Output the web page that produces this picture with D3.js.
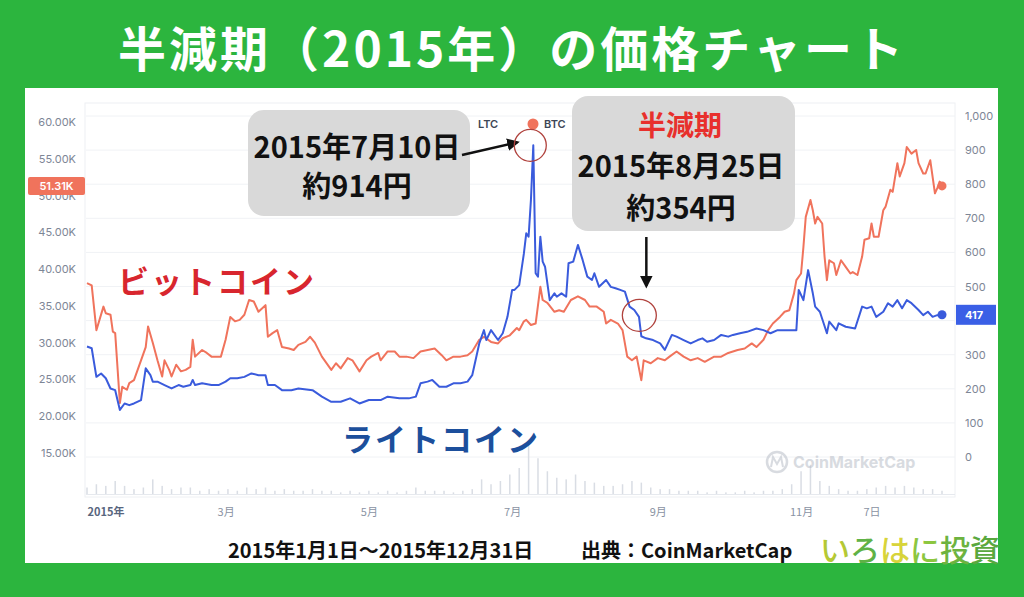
<!DOCTYPE html>
<html><head><meta charset="utf-8">
<script src="https://cdn.jsdelivr.net/npm/d3@7"></script>
<style>html,body{margin:0;padding:0;background:#2cb53e;}svg{display:block;}</style>
</head><body>
<svg id="c" width="1024" height="597"></svg>
<script>
// ---------- DATA ----------
const btcPrices = [
["2015-01-01",38100],["2015-01-03",37800],["2015-01-05",31700],["2015-01-08",34900],["2015-01-09",34000],["2015-01-11",33800],["2015-01-12",31500],["2015-01-13",31300],["2015-01-15",21800],["2015-01-16",24000],["2015-01-18",23600],["2015-01-19",24500],["2015-01-21",24900],["2015-01-24",27600],["2015-01-26",29400],["2015-01-27",32200],["2015-01-29",30000],["2015-01-31",27600],
["2015-02-02",25400],["2015-02-03",27600],["2015-02-05",26300],["2015-02-06",25400],["2015-02-08",27000],["2015-02-10",26100],["2015-02-12",26300],["2015-02-14",26700],["2015-02-15",30400],["2015-02-16",28100],["2015-02-19",29000],["2015-02-21",28600],["2015-02-23",28100],["2015-02-25",28100],["2015-02-27",28100],
["2015-03-01",30400],["2015-03-03",33500],["2015-03-05",32900],["2015-03-07",33100],["2015-03-09",33800],["2015-03-11",35800],["2015-03-13",35600],["2015-03-15",34200],["2015-03-18",35100],["2015-03-19",30800],["2015-03-21",31300],["2015-03-23",31700],["2015-03-25",29400],["2015-03-28",29200],["2015-03-30",29000],
["2015-04-01",29700],["2015-04-04",30100],["2015-04-06",30800],["2015-04-08",30000],["2015-04-11",28100],["2015-04-15",26300],["2015-04-17",27200],["2015-04-19",26500],["2015-04-22",27900],["2015-04-24",27600],["2015-04-27",26100],["2015-04-30",27600],
["2015-05-02",28100],["2015-05-05",28600],["2015-05-06",27600],["2015-05-09",28800],["2015-05-12",28800],["2015-05-14",28100],["2015-05-17",28100],["2015-05-20",27900],["2015-05-23",28800],["2015-05-26",29000],["2015-05-29",29200],
["2015-06-01",28300],["2015-06-03",27600],["2015-06-06",28100],["2015-06-09",28100],["2015-06-12",28300],["2015-06-14",28800],["2015-06-17",30400],["2015-06-19",30800],["2015-06-22",30100],["2015-06-25",29900],["2015-06-27",30600],["2015-06-30",31000],
["2015-07-03",32000],["2015-07-04",31700],["2015-07-06",32900],["2015-07-07",33100],["2015-07-09",32400],["2015-07-11",32600],["2015-07-13",37600],["2015-07-14",35800],["2015-07-16",35400],["2015-07-19",34200],["2015-07-21",34400],["2015-07-23",34200],["2015-07-26",35800],["2015-07-29",36300],
["2015-08-01",35800],["2015-08-03",34900],["2015-08-06",34900],["2015-08-09",34200],["2015-08-10",32600],["2015-08-12",33100],["2015-08-15",32600],["2015-08-17",31700],["2015-08-19",28100],["2015-08-21",27600],["2015-08-23",28100],["2015-08-25",24900],["2015-08-26",27600],["2015-08-29",27200],
["2015-09-01",27900],["2015-09-04",27600],["2015-09-06",28100],["2015-09-09",28800],["2015-09-12",28100],["2015-09-15",27600],["2015-09-18",27900],["2015-09-21",27400],["2015-09-25",28100],["2015-09-28",28100],
["2015-10-01",28600],["2015-10-05",29000],["2015-10-08",29200],["2015-10-11",29900],["2015-10-13",29400],["2015-10-16",30400],["2015-10-18",31700],["2015-10-20",32600],["2015-10-23",33500],["2015-10-25",34200],["2015-10-27",34400],["2015-10-29",36700],["2015-10-30",38500],
["2015-11-01",39400],["2015-11-02",43000],["2015-11-03",47100],["2015-11-05",49400],["2015-11-06",48000],["2015-11-07",46200],["2015-11-08",47100],["2015-11-10",46200],["2015-11-11",41700],["2015-11-12",38500],["2015-11-13",41200],["2015-11-15",40800],["2015-11-16",39200],["2015-11-18",41200],["2015-11-20",40300],["2015-11-22",39400],["2015-11-23",39600],["2015-11-25",39200],["2015-11-27",41700],["2015-11-28",44000],["2015-11-30",44200],
["2015-12-01",46200],["2015-12-02",44400],["2015-12-04",44400],["2015-12-06",48000],["2015-12-07",48500],["2015-12-09",50800],["2015-12-10",50500],["2015-12-12",54400],["2015-12-13",52600],["2015-12-15",54400],["2015-12-16",56600],["2015-12-18",55700],["2015-12-20",56200],["2015-12-21",54400],["2015-12-23",53000],["2015-12-24",53000],["2015-12-26",54800],["2015-12-28",50300],["2015-12-29",51000],["2015-12-30",51900],["2015-12-31",51310]
];
const ltcPrices = [
["2015-01-01",324],["2015-01-03",319],["2015-01-05",235],["2015-01-07",245],["2015-01-09",231],["2015-01-11",201],["2015-01-13",196],["2015-01-15",138],["2015-01-17",157],["2015-01-19",152],["2015-01-21",157],["2015-01-24",167],["2015-01-26",260],["2015-01-28",240],["2015-01-29",221],["2015-01-31",221],
["2015-02-03",211],["2015-02-06",201],["2015-02-09",211],["2015-02-11",206],["2015-02-14",211],["2015-02-15",226],["2015-02-16",211],["2015-02-19",216],["2015-02-23",211],["2015-02-26",211],
["2015-03-01",221],["2015-03-03",231],["2015-03-06",231],["2015-03-09",235],["2015-03-12",245],["2015-03-15",240],["2015-03-18",240],["2015-03-19",211],["2015-03-22",211],["2015-03-25",196],["2015-03-29",196],
["2015-04-01",201],["2015-04-07",196],["2015-04-11",177],["2015-04-15",162],["2015-04-19",162],["2015-04-23",172],["2015-04-27",157],
["2015-05-01",167],["2015-05-06",167],["2015-05-09",177],["2015-05-14",172],["2015-05-18",172],["2015-05-21",177],["2015-05-23",216],["2015-05-26",221],["2015-05-28",226],["2015-05-31",206],
["2015-06-03",206],["2015-06-06",216],["2015-06-09",216],["2015-06-12",221],["2015-06-14",240],["2015-06-17",333],["2015-06-19",372],["2015-06-20",343],["2015-06-22",372],["2015-06-25",343],["2015-06-27",363],["2015-06-29",411],
["2015-07-01",490],["2015-07-02",490],["2015-07-04",504],["2015-07-06",597],["2015-07-07",656],["2015-07-08",646],["2015-07-09",754],["2015-07-10",914],["2015-07-11",539],["2015-07-12",529],["2015-07-13",646],["2015-07-14",573],["2015-07-15",558],["2015-07-17",460],["2015-07-19",480],["2015-07-20",470],["2015-07-22",480],["2015-07-24",470],["2015-07-25",568],["2015-07-27",573],["2015-07-29",622],["2015-07-31",578],
["2015-08-02",529],["2015-08-04",519],["2015-08-05",539],["2015-08-07",499],["2015-08-10",519],["2015-08-12",499],["2015-08-14",495],["2015-08-16",490],["2015-08-18",485],["2015-08-20",441],["2015-08-22",431],["2015-08-24",411],["2015-08-25",354],["2015-08-27",348],["2015-08-30",343],
["2015-09-02",333],["2015-09-04",314],["2015-09-07",358],["2015-09-09",353],["2015-09-12",343],["2015-09-15",333],["2015-09-18",343],["2015-09-20",348],["2015-09-22",338],["2015-09-25",343],["2015-09-28",358],
["2015-10-01",353],["2015-10-03",358],["2015-10-06",363],["2015-10-09",367],["2015-10-13",377],["2015-10-16",372],["2015-10-19",363],["2015-10-22",372],["2015-10-25",372],["2015-10-28",372],["2015-10-30",372],["2015-10-31",490],
["2015-11-02",460],["2015-11-04",548],["2015-11-06",480],["2015-11-07",441],["2015-11-09",426],["2015-11-12",363],["2015-11-13",397],["2015-11-16",372],["2015-11-17",392],["2015-11-20",382],["2015-11-24",377],["2015-11-27",441],["2015-11-29",436],
["2015-12-01",441],["2015-12-03",411],["2015-12-06",426],["2015-12-08",451],["2015-12-10",441],["2015-12-12",460],["2015-12-14",436],["2015-12-16",460],["2015-12-18",451],["2015-12-21",431],["2015-12-23",416],["2015-12-25",426],["2015-12-27",411],["2015-12-29",416],["2015-12-31",417]
];
// volume (relative), one value every 4 days from 2015-01-01
const volumeStart = "2015-01-01";
const volumeStepDays = 4;
const volumeValues = [4,6,5,8,5,3,4,9,5,3,4,4,2,3,2,3,2,4,3,4,2,3,2,2,3,2,2,1,2,1,2,1,2,1,2,4,2,2,2,1,2,3,9,6,8,12,16,30,22,14,10,9,12,8,7,5,5,6,8,7,4,3,3,2,2,2,1,2,1,1,2,1,2,2,3,6,14,18,8,5,3,2,2,3,4,5,4,5,4,3,3,2];
const btcTicks = [15000,20000,25000,30000,35000,40000,45000,50000,55000,60000];
const ltcGrid = [0,100,200,300,400,500,600,700,800,900,1000];
const ltcTickLabels = [0,100,200,300,500,600,700,800,900,1000]; // 400 is hidden under the last-value badge
const xTickDates = ["2015-01-01","2015-03-01","2015-05-01","2015-07-01","2015-09-01","2015-11-01","2015-12-01"];
const xTickLabels = ["2015年","3月","5月","7月","9月","11月","7日"];
const titleText = "半減期（2015年）の価格チャート";
const peakNote = {date:"2015-07-10", value:914, lines:["2015年7月10日","約914円"]};
const halvingNote = {date:"2015-08-25", value:354, head:"半減期", lines:["2015年8月25日","約354円"]};
const lastBtcLabel = "51.31K";
const lastLtcLabel = "417";

// ---------- SETUP ----------
const parse = d3.timeParse("%Y-%m-%d");
const svg = d3.select("#c");
const C_BTC = "#f0735c", C_LTC = "#3a5bdc";
const axisFont = "Inter, 'Noto Sans', sans-serif";
const jpFont = "'Noto Sans CJK JP', 'Noto Sans', sans-serif";

svg.append("rect").attr("width",1024).attr("height",597).attr("fill","#2cb53e");
svg.append("rect").attr("x",25).attr("y",88).attr("width",973).attr("height",475).attr("fill","#ffffff");

svg.append("text").attr("x",512).attr("y",46).attr("text-anchor","middle").attr("dominant-baseline","central")
  .attr("font-family",jpFont).attr("font-weight",700).attr("font-size",48).attr("letter-spacing",3).attr("fill","#fff").text(titleText);

const x = d3.scaleTime().domain([parse("2015-01-01"), parse("2015-12-31")]).range([87, 942]);
const yB = d3.scaleLinear().domain([15000,60000]).range([453,122]);
const yL = d3.scaleLinear().domain([0,1000]).range([457,116]);
const yV = d3.scaleLinear().domain([0,32]).range([494,442]);

// plot frame
svg.append("rect").attr("x",85).attr("y",103).attr("width",870).attr("height",394)
  .attr("fill","none").attr("stroke","#eef0f3").attr("stroke-width",1);
// gridlines
svg.append("g").selectAll("line").data(ltcGrid).join("line")
  .attr("x1",86).attr("x2",955).attr("y1",d=>yL(d)).attr("y2",d=>yL(d))
  .attr("stroke","#f0f2f5").attr("stroke-width",1);

// volume
const vol = volumeValues.map((v,i)=>({d:d3.timeDay.offset(parse(volumeStart), i*volumeStepDays), v}));
svg.append("g").selectAll("rect").data(vol).join("rect")
  .attr("x",d=>x(d.d)-0.75).attr("width",1.5).attr("y",d=>yV(d.v)).attr("height",d=>yV(0)-yV(d.v))
  .attr("fill","#d9dde4");
svg.append("line").attr("x1",86).attr("x2",955).attr("y1",494.5).attr("y2",494.5).attr("stroke","#e6e9ee");

// watermark
const wm = svg.append("g").attr("opacity",0.55);
wm.append("circle").attr("cx",777).attr("cy",462).attr("r",10).attr("fill","none").attr("stroke","#b9bec8").attr("stroke-width",2.5);
wm.append("path").attr("d","M771,467 L773,457 L777,464 L781,457 L783,467").attr("fill","none").attr("stroke","#b9bec8").attr("stroke-width",2);
wm.append("text").attr("x",793).attr("y",468).attr("font-family",axisFont).attr("font-weight",700).attr("font-size",16).attr("fill","#b9bec8").text("CoinMarketCap");

// axes
const gl = svg.append("g").attr("transform","translate(76,0)")
  .call(d3.axisLeft(yB).tickValues(btcTicks).tickSize(0).tickPadding(0).tickFormat(d=>(d/1000).toFixed(2)+"K"));
gl.select(".domain").remove();
gl.selectAll("text").attr("font-family",axisFont).attr("font-size",11).attr("fill","#7d8696");
const gr = svg.append("g").attr("transform","translate(965,0)")
  .call(d3.axisRight(yL).tickValues(ltcTickLabels).tickSize(0).tickPadding(0).tickFormat(d3.format(",")));
gr.select(".domain").remove();
gr.selectAll("text").attr("font-family",axisFont).attr("font-size",11).attr("fill","#7d8696");
const gx = svg.append("g").attr("transform","translate(0,500)")
  .call(d3.axisBottom(x).tickValues(xTickDates.map(parse)).tickSize(0).tickPadding(8).tickFormat((d,i)=>xTickLabels[i]));
gx.select(".domain").remove();
gx.selectAll("text").attr("font-family",jpFont).attr("font-size",11).attr("fill","#8a93a3")
  .filter((d,i)=>i===0).attr("text-anchor","start").attr("font-weight",700).attr("fill","#58667e");

// lines
const lineB = d3.line().x(d=>x(parse(d[0]))).y(d=>yB(d[1]));
const lineL = d3.line().x(d=>x(parse(d[0]))).y(d=>yL(d[1]));
svg.append("path").datum(btcPrices).attr("d",lineB).attr("fill","none").attr("stroke",C_BTC).attr("stroke-width",2).attr("stroke-linejoin","round");
svg.append("path").datum(ltcPrices).attr("d",lineL).attr("fill","none").attr("stroke",C_LTC).attr("stroke-width",2).attr("stroke-linejoin","round");
const lb = btcPrices[btcPrices.length-1], ll = ltcPrices[ltcPrices.length-1];
svg.append("circle").attr("cx",x(parse(lb[0]))).attr("cy",yB(lb[1])).attr("r",4.5).attr("fill",C_BTC);
svg.append("circle").attr("cx",x(parse(ll[0]))).attr("cy",yL(ll[1])).attr("r",4.5).attr("fill",C_LTC);

// last value badges
svg.append("rect").attr("x",28).attr("y",yB(lb[1])-9).attr("width",57).attr("height",18).attr("fill","#f0735c").attr("rx",2);
svg.append("text").attr("x",56.5).attr("y",yB(lb[1])).attr("text-anchor","middle").attr("dominant-baseline","central")
  .attr("font-family",axisFont).attr("font-size",11).attr("font-weight",600).attr("fill","#fff").text(lastBtcLabel);
svg.append("rect").attr("x",956).attr("y",yL(ll[1])-10).attr("width",40).attr("height",20).attr("fill","#3a5fe6");
svg.append("text").attr("x",974).attr("y",yL(ll[1])).attr("text-anchor","middle").attr("dominant-baseline","central")
  .attr("font-family",axisFont).attr("font-size",11).attr("font-weight",700).attr("fill","#fff").text(lastLtcLabel);

// legend
svg.append("text").attr("x",478).attr("y",128).attr("font-family",axisFont).attr("font-size",11).attr("font-weight",600).attr("fill","#3d4656").text("LTC");
svg.append("circle").attr("cx",533).attr("cy",124).attr("r",5.5).attr("fill",C_BTC);
svg.append("text").attr("x",544).attr("y",128).attr("font-family",axisFont).attr("font-size",11).attr("font-weight",600).attr("fill","#3d4656").text("BTC");

// series labels
svg.append("text").attr("x",118).attr("y",279).attr("dominant-baseline","central").attr("font-family",jpFont).attr("font-weight",700)
  .attr("font-size",31).attr("fill","#d8262e").attr("letter-spacing",2).text("ビットコイン");
svg.append("text").attr("x",342).attr("y",437).attr("dominant-baseline","central").attr("font-family",jpFont).attr("font-weight",700)
  .attr("font-size",31).attr("fill","#1c4f9c").attr("letter-spacing",2).text("ライトコイン");

// markers
const defs = svg.append("defs");
defs.append("marker").attr("id","ah").attr("viewBox","0 0 10 10").attr("refX",8).attr("refY",5)
  .attr("markerWidth",5).attr("markerHeight",5).attr("orient","auto-start-reverse")
  .append("path").attr("d","M0,0 L10,5 L0,10 z").attr("fill","#111");

// annotation 1
svg.append("rect").attr("x",248).attr("y",110).attr("width",222).attr("height",106).attr("rx",16).attr("fill","#d9d9d9");
peakNote.lines.forEach((t,i)=>svg.append("text").attr("x",357).attr("y",145+i*39).attr("text-anchor","middle").attr("dominant-baseline","central")
  .attr("font-family",jpFont).attr("font-weight",700).attr("font-size",29).attr("fill","#111").text(t));
const px = x(parse(peakNote.date)), py = yL(peakNote.value);
svg.append("line").attr("x1",462).attr("y1",155).attr("x2",px-16).attr("y2",py-3).attr("stroke","#111").attr("stroke-width",2.5).attr("marker-end","url(#ah)");
svg.append("circle").attr("cx",px-3).attr("cy",py).attr("r",16).attr("fill","none").attr("stroke","#b0423d").attr("stroke-width",1.3);

// annotation 2
svg.append("rect").attr("x",572).attr("y",96).attr("width",223).attr("height",135).attr("rx",16).attr("fill","#d9d9d9");
svg.append("text").attr("x",680).attr("y",124).attr("text-anchor","middle").attr("dominant-baseline","central")
  .attr("font-family",jpFont).attr("font-weight",700).attr("font-size",28).attr("fill","#e8302c").text(halvingNote.head);
halvingNote.lines.forEach((t,i)=>svg.append("text").attr("x",681).attr("y",164+i*42).attr("text-anchor","middle").attr("dominant-baseline","central")
  .attr("font-family",jpFont).attr("font-weight",700).attr("font-size",29).attr("fill","#111").text(t));
const hx = x(parse(halvingNote.date)), hy = yL(halvingNote.value);
svg.append("line").attr("x1",hx+5).attr("y1",237).attr("x2",hx+5).attr("y2",286).attr("stroke","#111").attr("stroke-width",2.5).attr("marker-end","url(#ah)");
svg.append("ellipse").attr("cx",hx-2).attr("cy",hy-21).attr("rx",17).attr("ry",16).attr("fill","none").attr("stroke","#b0423d").attr("stroke-width",1.3);

// footer
svg.append("text").attr("x",228).attr("y",549).attr("dominant-baseline","central").attr("font-family",jpFont).attr("font-weight",700)
  .attr("font-size",20).attr("fill","#111").text("2015年1月1日〜2015年12月31日");
svg.append("text").attr("x",581).attr("y",549).attr("dominant-baseline","central").attr("font-family",jpFont).attr("font-weight",700)
  .attr("font-size",20).attr("fill","#111").text("出典：CoinMarketCap");
const brand = [["い","#b5c934"],["ろ","#5fb246"],["は","#d8d43a"],["に","#8cc63f"],["投","#6db33f"],["資","#5aa83e"]];
const bt = svg.append("text").attr("x",820).attr("y",548).attr("dominant-baseline","central").attr("font-family",jpFont)
  .attr("font-weight",500).attr("font-size",30);
brand.forEach(b=>bt.append("tspan").attr("fill",b[1]).text(b[0]));
</script>
</body></html>
